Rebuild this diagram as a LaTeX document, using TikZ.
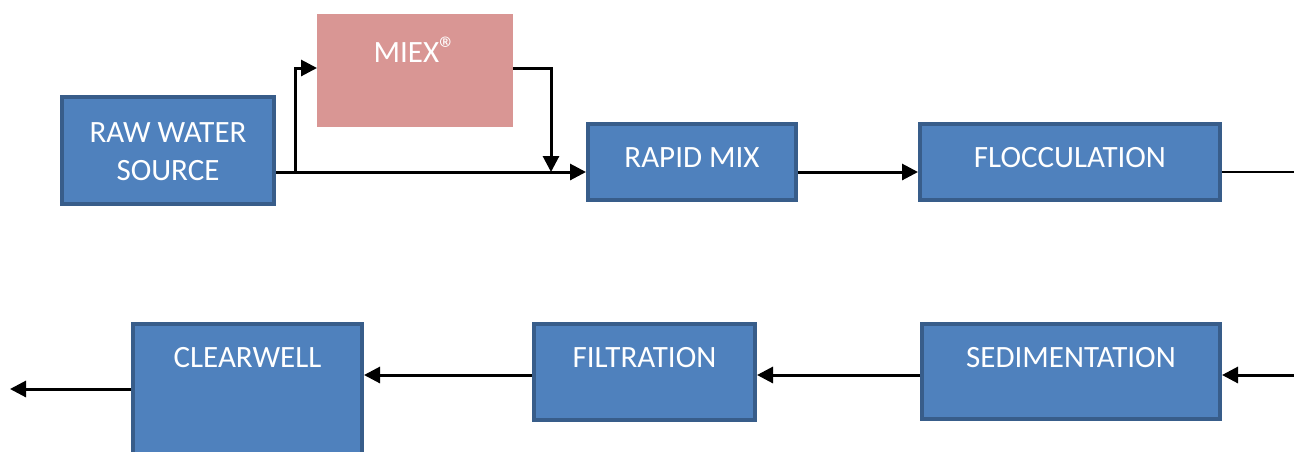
\documentclass[tikz,border=0pt]{standalone}
\usepackage{fontspec}
\setmainfont{Carlito}
\usetikzlibrary{arrows.meta}
\definecolor{boxfill}{HTML}{4F81BD}
\definecolor{boxedge}{HTML}{385D8A}
\definecolor{miexfill}{HTML}{D99694}
\begin{document}
\begin{tikzpicture}[x=1pt,y=-1pt,
  stage/.style={draw=boxedge, line width=4pt, fill=boxfill, inner sep=0pt, outer sep=2pt},
  miexbox/.style={fill=miexfill, draw=none, inner sep=0pt, outer sep=0pt},
  lbl/.style={text=white, font=\fontsize{31}{38}\selectfont, inner sep=0pt},
  flow/.style={line width=3pt, -{Triangle[length=16pt,width=16pt]}},
  thinflow/.style={line width=1.8pt}]
\clip (0,0) rectangle (1294,451);
% top row
\node[stage, minimum width=212pt, minimum height=107pt,
      label={[lbl, align=center, anchor=center, yshift=-1pt]center:RAW WATER\\SOURCE}] (raw) at (168,150.5) {};
\node[miexbox, minimum width=196pt, minimum height=113pt,
      label={[lbl, anchor=center, yshift=-36pt]north:MIEX\raisebox{0.05em}{\fontsize{34}{34}\selectfont ®}}] (miex) at (415,70.5) {};
\node[stage, minimum width=208pt, minimum height=76pt,
      label={[lbl, anchor=center, yshift=-36pt]north:RAPID MIX}] (rapid) at (692,162) {};
\node[stage, minimum width=300pt, minimum height=76pt,
      label={[lbl, anchor=center, yshift=-36pt]north:FLOCCULATION}] (floc) at (1070,162) {};
% bottom row
\node[stage, minimum width=298pt, minimum height=95pt,
      label={[lbl, anchor=center, yshift=-36pt]north:SEDIMENTATION}] (sed) at (1071,371.5) {};
\node[stage, minimum width=221pt, minimum height=96pt,
      label={[lbl, anchor=center, yshift=-36pt]north:FILTRATION}] (filt) at (644.5,372) {};
\node[stage, minimum width=229pt, minimum height=134pt,
      label={[lbl, anchor=center, yshift=-36pt]north:CLEARWELL}] (clear) at (247.5,391) {};
% helper coordinates
\coordinate (mainy) at (0,172);
\coordinate (miexy) at (0,68);
\coordinate (branch) at (295,172);
\coordinate (join) at (551,172);
\coordinate (out1) at (1294,172);
\coordinate (in2) at (1294,375);
\coordinate (out2) at (10,389);
% connectors
\draw[flow] (raw.east |- mainy) -- (rapid.west |- mainy);
\draw[flow] (branch) |- (miex.west |- miexy);
\draw[flow] (miex.east |- miexy) -| (join);
\draw[flow] (rapid.east |- mainy) -- (floc.west |- mainy);
\draw[thinflow] (floc.east |- mainy) -- (out1);
\draw[flow] (in2) -- (sed.east |- in2);
\draw[flow] (sed.west |- in2) -- (filt.east |- in2);
\draw[flow] (filt.west |- in2) -- (clear.east |- in2);
\draw[flow] (clear.west |- out2) -- (out2);
\end{tikzpicture}
\end{document}
